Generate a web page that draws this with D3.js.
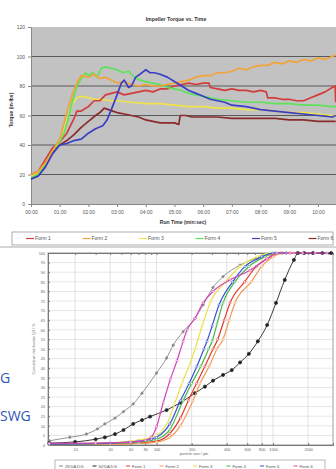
<!DOCTYPE html>
<html>
<head>
<meta charset="utf-8">
<script src="https://cdn.jsdelivr.net/npm/d3@7"></script>
<style>
  body { margin: 0; background: #fff; }
  svg { display: block; font-family: "Liberation Sans", Arial, sans-serif; }
</style>
</head>
<body>
<script>
// ---- top chart: impeller torque vs. time (minutes, in-lbs) ----
const torqueForms = ["Form 1", "Form 2", "Form 3", "Form 4", "Form 5", "Form 6"];
const torqueColors = ["#d23c3c", "#f2a43a", "#eee34a", "#5ee25a", "#3a3ec4", "#8a2c2c"];
const timeTicks = ["00:00", "01:00", "02:00", "03:00", "04:00", "05:00", "06:00", "07:00", "08:00", "09:00", "10:00"];
const torqueTicks = [0, 20, 40, 60, 80, 100, 120];

const form1Torque = [[0,20],[0.25,22],[0.5,30],[0.75,38],[1,42],[1.25,48],[1.5,58],[1.6,63],[1.75,63],[2,66],[2.2,70],[2.4,70],[2.6,74],[2.8,75],[3,76],[3.25,74],[3.5,75],[3.75,76],[4,77],[4.25,76],[4.5,78],[4.75,78],[5,80],[5.25,81],[5.5,82],[5.75,81],[6,82],[6.2,82],[6.25,79],[6.5,78],[6.75,77],[7,78],[7.25,77],[7.5,77],[7.75,76],[8,77],[8.2,76],[8.25,72],[8.5,72],[8.75,71],[9,71],[9.25,70],[9.5,70],[9.75,72],[10,74],[10.25,76],[10.5,79],[10.6,80],[10.62,69]];
const form2Torque = [[0,20],[0.25,22],[0.5,28],[0.75,36],[1,44],[1.15,55],[1.3,66],[1.45,75],[1.6,82],[1.75,87],[2,86],[2.2,88],[2.4,85],[2.6,86],[2.8,84],[3,82],[3.25,83],[3.5,81],[3.75,80],[4,81],[4.25,80],[4.5,80],[4.75,81],[5,82],[5.25,83],[5.5,84],[5.75,86],[6,87],[6.25,87],[6.5,89],[6.75,89],[7,90],[7.25,92],[7.5,91],[7.75,93],[8,94],[8.25,94],[8.5,96],[8.75,95],[9,97],[9.25,96],[9.5,98],[9.75,97],[10,99],[10.25,98],[10.5,100],[10.62,101]];
const form3Torque = [[0,19],[0.25,21],[0.5,28],[0.75,37],[1,42],[1.15,50],[1.3,60],[1.45,68],[1.6,72],[1.8,73],[2,72],[2.25,71],[2.5,71],[2.75,70],[3,70],[3.5,69],[4,68],[4.5,68],[5,67],[5.5,66],[6,66],[6.5,65],[7,65],[7.5,64],[8,64],[8.5,63],[9,62],[9.5,62],[10,61],[10.5,60],[10.62,60]];
const form4Torque = [[0,18],[0.25,20],[0.5,27],[0.75,36],[1,42],[1.15,48],[1.3,58],[1.45,70],[1.6,80],[1.75,85],[1.9,89],[2,87],[2.15,89],[2.3,86],[2.45,92],[2.6,93],[2.8,92],[3,91],[3.2,89],[3.4,90],[3.6,86],[3.8,84],[4,83],[4.25,82],[4.5,81],[4.75,79],[5,78],[5.25,77],[5.5,75],[5.75,74],[6,73],[6.5,71],[7,70],[7.5,69],[8,69],[8.5,68],[9,68],[9.5,67],[10,67],[10.5,66],[10.62,66]];
const form5Torque = [[0,17],[0.25,19],[0.5,25],[0.75,34],[1,40],[1.25,41],[1.5,43],[1.75,44],[2,48],[2.25,51],[2.5,53],[2.65,57],[2.8,64],[3,74],[3.15,82],[3.25,84],[3.4,79],[3.5,80],[3.65,86],[3.8,88],[4,91],[4.15,89],[4.3,89],[4.5,88],[4.75,86],[5,83],[5.25,80],[5.5,77],[5.75,75],[6,73],[6.25,71],[6.5,70],[6.75,69],[7,67],[7.5,66],[8,64],[8.5,63],[9,62],[9.5,61],[10,60],[10.5,59],[10.62,60]];
const form6Torque = [[0,17],[0.25,19],[0.5,26],[0.75,35],[1,40],[1.25,43],[1.5,47],[1.75,52],[2,56],[2.25,60],[2.4,62],[2.55,65],[2.7,64],[2.85,63],[3,62],[3.25,61],[3.5,60],[3.75,59],[4,57],[4.25,56],[4.5,55],[4.75,55],[5,55],[5.15,54],[5.2,60],[5.4,60],[5.6,59],[6,59],[6.5,59],[7,58],[7.5,58],[8,58],[8.5,58],[9,57],[9.5,57],[10,56],[10.5,56],[10.62,56]];
const torqueSeries = [form1Torque, form2Torque, form3Torque, form4Torque, form5Torque, form6Torque];

// ---- bottom chart: cumulative particle size distribution (µm, %) ----
const psdNames = ["25%A DG", "50%A DG", "Form 1", "Form 2", "Form 3", "Form 4", "Form 5", "Form 6"];
const psdColors = ["#8a8a8a", "#222222", "#e23a30", "#f39a5a", "#e9e24a", "#48b848", "#3552d2", "#d444b4"];
const sizeGrid = [20, 40, 60, 80, 100, 200, 400, 600, 800, 1000, 2000];
const sizeLabels = ["20", "40", "60", "80", "100", "200", "400", "600", "800", "1000", "2000"];
const percentTicks = d3.range(0, 101, 5);

const dg25 = [[12,2.2],[18,4],[25,5.7],[31,8.3],[36,11],[44,14],[52,17.4],[63,21.4],[75,27],[100,37.5],[122,45.3],[139,52],[169,59],[214,66],[251,73],[305,82],[372,87.7],[521,93.7],[729,97.4],[942,99.5],[1200,100],[1600,100]];
const dg50 = [[12,1],[20,1.6],[30,3],[36,4],[44,5.7],[52,7.8],[63,11],[75,13],[88,14.8],[122,18.2],[160,22],[214,27],[260,30.4],[305,33.5],[372,36.5],[442,39],[521,43],[620,47.5],[740,54],[890,62.5],[1060,74],[1260,86],[1510,96.4],[1640,100],[1850,100],[2200,100],[2650,100],[3150,100]];
const form1Psd = [[12,0.3],[40,0.6],[70,1],[100,2],[130,6],[160,14],[187,23],[220,32],[260,41],[305,50],[335,55],[380,65],[427,74],[570,85],[720,93],[950,98],[1150,100],[1400,100]];
const form2Psd = [[12,0.2],[40,0.4],[70,0.8],[100,1.5],[130,4],[160,10],[205,23],[236,32],[283,41],[330,50],[372,55],[420,65],[471,74],[650,85],[800,93],[1000,98],[1200,100],[1500,100]];
const form3Psd = [[12,0.6],[30,1],[50,1.5],[70,2.5],[90,4],[100,5],[110,7],[125,12],[144,22],[165,32],[190,41],[214,50],[246,62],[288,74],[390,85],[521,93],[730,98],[940,100],[1200,100]];
const form4Psd = [[12,0.4],[40,0.8],[70,1.5],[100,3],[130,8],[169,23],[200,32],[240,41],[280,50],[300,54],[330,63],[372,74],[470,85],[620,93],[850,98],[1050,100],[1300,100]];
const form5Psd = [[12,0.5],[40,1],[70,2],[90,3],[100,4],[130,11],[160,23],[190,32],[222,41],[255,50],[271,54],[300,62],[344,73],[450,85],[575,93],[800,98],[1000,100],[1300,100]];
const form6Psd = [[12,0.8],[30,1],[60,1.5],[80,2.5],[90,4],[100,9.5],[114,22],[131,34],[150,44],[169,54],[183,60],[214,66],[251,74],[305,80],[427,86],[634,91],[890,97],[1080,100],[1400,100],[1800,100],[2300,100],[2900,100]];
const psdSeries = [dg25, dg50, form1Psd, form2Psd, form3Psd, form4Psd, form5Psd, form6Psd];

const svg = d3.select("body").append("svg")
  .attr("width", 336)
  .attr("height", 469);

// ================= top chart =================
const tx = d3.scaleLinear().domain([0, 10.63]).range([31, 336]);
const ty = d3.scaleLinear().domain([0, 120]).range([204, 27]);

svg.append("rect")
  .attr("x", tx(0)).attr("y", ty(120))
  .attr("width", tx(10.63) - tx(0)).attr("height", ty(0) - ty(120))
  .attr("fill", "#c2c2c2");

svg.append("g")
  .selectAll("line")
  .data(torqueTicks.filter(d => d > 0 && d < 120))
  .enter().append("line")
    .attr("x1", tx(0)).attr("x2", tx(10.63))
    .attr("y1", d => ty(d)).attr("y2", d => ty(d))
    .attr("stroke", "#5a5a5a")
    .attr("stroke-width", 1);

const tyAxis = svg.append("g")
  .attr("transform", "translate(" + tx(0) + ",0)")
  .call(d3.axisLeft(ty).tickValues(torqueTicks).tickSize(3));
const txAxis = svg.append("g")
  .attr("transform", "translate(0," + ty(0) + ")")
  .call(d3.axisBottom(tx).tickValues(d3.range(0, 11)).tickFormat((d, i) => timeTicks[i]).tickSize(3));
[tyAxis, txAxis].forEach(a => {
  a.selectAll("text").attr("font-size", 5).attr("fill", "#555");
  a.selectAll("line,path").attr("stroke", "#888");
});

const torqueLine = d3.line()
  .x(d => tx(d[0]))
  .y(d => ty(d[1]));

const drawOrder = [5, 2, 0, 3, 1, 4];
svg.append("g")
  .selectAll("path")
  .data(drawOrder)
  .enter().append("path")
    .attr("d", i => torqueLine(torqueSeries[i]))
    .attr("fill", "none")
    .attr("stroke", i => torqueColors[i])
    .attr("stroke-width", 1.7)
    .attr("stroke-linejoin", "round");

svg.append("text")
  .attr("x", 176).attr("y", 21)
  .attr("text-anchor", "middle")
  .attr("font-size", 5.2).attr("font-weight", "bold")
  .attr("fill", "#333")
  .text("Impeller Torque vs. Time");

svg.append("text")
  .attr("transform", "translate(13,110) rotate(-90)")
  .attr("text-anchor", "middle")
  .attr("font-size", 5).attr("font-weight", "bold")
  .attr("fill", "#333")
  .text("Torque (in-lbs)");

svg.append("text")
  .attr("x", 183).attr("y", 224)
  .attr("text-anchor", "middle")
  .attr("font-size", 5).attr("font-weight", "bold")
  .attr("fill", "#333")
  .text("Run Time (min:sec)");

svg.append("rect")
  .attr("x", 12).attr("y", 232)
  .attr("width", 321).attr("height", 13)
  .attr("fill", "#fff").attr("stroke", "#9a9a9a").attr("stroke-width", 0.8);

const topLegend = svg.append("g")
  .selectAll("g")
  .data(torqueForms)
  .enter().append("g")
    .attr("transform", (d, i) => "translate(" + (26 + i * 56.5) + ",238.5)");
topLegend.append("line")
  .attr("x1", 0).attr("x2", 8)
  .attr("stroke", (d, i) => torqueColors[i])
  .attr("stroke-width", 1.2);
topLegend.append("text")
  .attr("x", 9).attr("y", 1.8)
  .attr("font-size", 5).attr("fill", "#555")
  .text(d => d);

svg.append("line")
  .attr("x1", 0).attr("x2", 336)
  .attr("y1", 247).attr("y2", 247)
  .attr("stroke", "#c8c8c8").attr("stroke-width", 1.5);

// ================= bottom chart =================
const px = d3.scaleLog().domain([11.7, 3270]).range([48, 333]);
const py = d3.scaleLinear().domain([0, 100]).range([445, 253]);

svg.append("g")
  .selectAll("line")
  .data(percentTicks)
  .enter().append("line")
    .attr("x1", px(11.7)).attr("x2", px(3270))
    .attr("y1", d => py(d)).attr("y2", d => py(d))
    .attr("stroke", "#dcdcdc").attr("stroke-width", 0.7);

svg.append("g")
  .selectAll("line")
  .data(sizeGrid)
  .enter().append("line")
    .attr("x1", d => px(d)).attr("x2", d => px(d))
    .attr("y1", py(0)).attr("y2", py(100))
    .attr("stroke", "#d4d4d4").attr("stroke-width", 0.7);

svg.append("rect")
  .attr("x", px(11.7)).attr("y", py(100))
  .attr("width", px(3270) - px(11.7)).attr("height", py(0) - py(100))
  .attr("fill", "none").attr("stroke", "#8a8a8a").attr("stroke-width", 0.8);

const minorSizes = [20, 30, 40, 50, 60, 70, 80, 90, 100, 200, 300, 400, 500, 600, 700, 800, 900, 1000, 2000, 3000];
svg.append("g")
  .attr("transform", "translate(0," + py(100) + ")")
  .call(d3.axisTop(px).tickValues(minorSizes).tickSize(-2).tickFormat(""))
  .selectAll("line,path").attr("stroke", "#777");

const pyAxis = svg.append("g")
  .attr("transform", "translate(" + px(11.7) + ",0)")
  .call(d3.axisLeft(py).tickValues(percentTicks).tickSize(-2).tickPadding(3));
const pxAxis = svg.append("g")
  .attr("transform", "translate(0," + py(0) + ")")
  .call(d3.axisBottom(px).tickValues(sizeGrid).tickFormat((d, i) => sizeLabels[i]).tickSize(-2).tickPadding(3));
[pyAxis, pxAxis].forEach(a => {
  a.selectAll("text").attr("font-size", 3.8).attr("fill", "#666");
  a.selectAll("line,path").attr("stroke", "#777");
});

svg.append("text")
  .attr("transform", "translate(35,349) rotate(-90)")
  .attr("text-anchor", "middle")
  .attr("font-size", 3.8).attr("fill", "#666")
  .text("Cumulative distribution Q3 / %");

svg.append("text")
  .attr("x", 194).attr("y", 455)
  .attr("text-anchor", "middle")
  .attr("font-size", 3.8).attr("fill", "#666")
  .text("particle size / µm");

const psdLine = d3.line()
  .x(d => px(d[0]))
  .y(d => py(d[1]))
  .curve(d3.curveMonotoneX);

const psdGroups = svg.append("g")
  .selectAll("g")
  .data(psdSeries)
  .enter().append("g");
psdGroups.append("path")
  .attr("d", d => psdLine(d))
  .attr("fill", "none")
  .attr("stroke", (d, i) => psdColors[i])
  .attr("stroke-width", (d, i) => i < 2 ? 0.9 : 1.2);
psdGroups.selectAll("circle")
  .data((d, i) => d.map(p => ({ p: p, i: i })))
  .enter().append("circle")
    .attr("cx", d => px(d.p[0]))
    .attr("cy", d => py(d.p[1]))
    .attr("r", d => d.i === 1 ? 1.6 : (d.i === 0 ? 1.2 : 1.1))
    .attr("fill", d => d.i < 2 ? psdColors[d.i] : "#fff")
    .attr("stroke", d => psdColors[d.i])
    .attr("stroke-width", 0.6);

svg.append("rect")
  .attr("x", 55).attr("y", 460)
  .attr("width", 270).attr("height", 12)
  .attr("fill", "#fff").attr("stroke", "#9a9a9a").attr("stroke-width", 0.7);

const psdLegend = svg.append("g")
  .selectAll("g")
  .data(psdNames)
  .enter().append("g")
    .attr("transform", (d, i) => "translate(" + (59 + i * 33.5) + ",466)");
psdLegend.append("line")
  .attr("x1", 0).attr("x2", 4)
  .attr("stroke", (d, i) => psdColors[i])
  .attr("stroke-width", 1);
psdLegend.append("text")
  .attr("x", 6).attr("y", 1.5)
  .attr("font-size", 4.2).attr("fill", "#555")
  .text(d => d);

// slide text on the left
svg.append("text")
  .attr("x", 0).attr("y", 383)
  .attr("font-size", 14).attr("fill", "#2c56b8")
  .attr("font-family", "'Open Sans', sans-serif")
  .text("G");
svg.append("text")
  .attr("x", 0).attr("y", 421)
  .attr("font-size", 14).attr("fill", "#2c56b8")
  .attr("font-family", "'Open Sans', sans-serif")
  .text("SWG");
</script>
</body>
</html>
